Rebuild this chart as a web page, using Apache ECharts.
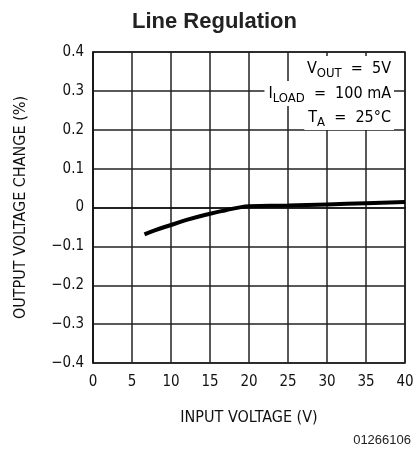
<!DOCTYPE html>
<html><head><meta charset="utf-8">
<script src="https://cdn.jsdelivr.net/npm/echarts@6/dist/echarts.min.js"></script>
<style>html,body{margin:0;padding:0;background:#fff}#c{width:417px;height:455px}</style>
</head><body><div id="c"></div>
<script>
const inputVoltage = [6.6, 8, 10, 12, 15, 17, 19, 20, 25, 30, 35, 40];
const outputChange = [-0.069, -0.058, -0.045, -0.032, -0.016, -0.007, 0.001, 0.003, 0.005, 0.008, 0.011, 0.014];
const xTicks = [0, 5, 10, 15, 20, 25, 30, 35, 40];
const yTickLabels = ['\u22120.4', '\u22120.3', '\u22120.2', '\u22120.1', '0', '0.1', '0.2', '0.3', '0.4'];
const yTickValues = [-0.4, -0.3, -0.2, -0.1, 0, 0.1, 0.2, 0.3, 0.4];

const F = '"DejaVu Sans Condensed", "DejaVu Sans", sans-serif';
const chart = echarts.init(document.getElementById('c'));
const rich = {
  m: { fontFamily: F, fontSize: 16, color: '#111' },
  s: { fontFamily: F, fontSize: 13, color: '#111', padding: [10, 0, 0, 0] }
};
function note(text, top) {
  return {
    type: 'text', right: 23, top: top, z: 100,
    style: { text: text, rich: rich, backgroundColor: '#fff', padding: [1, 3, 1, 4], align: 'right' }
  };
}
chart.setOption({
  animation: false,
  title: {
    text: 'Line Regulation', left: 127, top: 6,
    textStyle: { fontFamily: 'Liberation Sans, Arial, sans-serif', fontWeight: 'bold', fontSize: 22, color: '#222' }
  },
  grid: { left: 93, right: 12, top: 52, bottom: 92, show: true, borderColor: '#111', borderWidth: 1.5 },
  xAxis: {
    type: 'value', min: 0, max: 40, interval: 5,
    name: 'INPUT VOLTAGE (V)', nameLocation: 'middle', nameGap: 47,
    nameTextStyle: { fontFamily: F, fontSize: 16, color: '#111' },
    axisLine: { show: true, lineStyle: { color: '#111', width: 1.5 } },
    axisTick: { show: false },
    axisLabel: { fontFamily: F, fontSize: 15, color: '#111', margin: 12,
      formatter: v => String(xTicks[xTicks.indexOf(v)]) },
    splitLine: { show: true, lineStyle: { color: '#222', width: 1.5 } }
  },
  yAxis: {
    type: 'value', min: -0.4, max: 0.4, interval: 0.1,
    name: 'OUTPUT VOLTAGE CHANGE (%)', nameLocation: 'middle', nameGap: 64,
    nameTextStyle: { fontFamily: F, fontSize: 16, color: '#111' },
    axisLine: { show: true, lineStyle: { color: '#111', width: 1.5 } },
    axisTick: { show: false },
    axisLabel: { fontFamily: F, fontSize: 15, color: '#111', margin: 9,
      formatter: v => {
        let i = yTickValues.findIndex(t => Math.abs(t - v) < 1e-6);
        return i >= 0 ? yTickLabels[i] : '';
      } },
    splitLine: { show: true, lineStyle: { color: '#222', width: 1.5 } }
  },
  series: [{
    type: 'line', smooth: true, showSymbol: false,
    data: inputVoltage.map((x, i) => [x, outputChange[i]]),
    lineStyle: { color: '#000', width: 4 }
  }],
  graphic: [
    note('{m|V}{s|OUT}{m|  =  5V}', 56),
    note('{m|I}{s|LOAD}{m|  =  100 mA}', 81),
    note('{m|T}{s|A}{m|  =  25°C}', 105),
    { type: 'text', right: 6, top: 434,
      style: { text: '01266106', fontFamily: 'Liberation Sans, Arial, sans-serif', fontSize: 13, fill: '#222' } }
  ]
});
</script></body></html>
